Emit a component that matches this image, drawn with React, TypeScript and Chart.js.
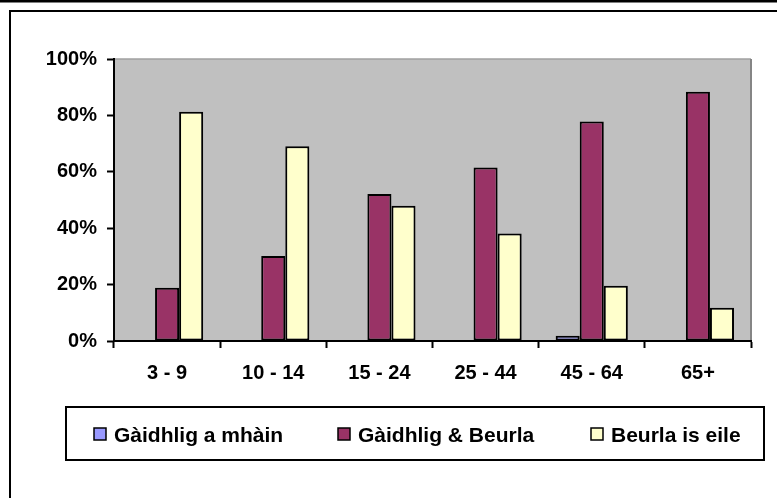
import React, { useEffect, useRef } from "react";
import { Chart, registerables } from "chart.js";

Chart.register(...registerables);

const categories = ["3 - 9", "10 - 14", "15 - 24", "25 - 44", "45 - 64", "65+"];
const seriesNames = ["Gàidhlig a mhàin", "Gàidhlig & Beurla", "Beurla is eile"];
const gaelicOnly = [0, 0, 0, 0, 1.9, 0];
const gaelicEnglish = [18.9, 30.1, 52.1, 61.5, 77.8, 88.4];
const englishOther = [81.3, 69.1, 48.0, 38.1, 19.6, 11.8];
const yTicks = [0, 20, 40, 60, 80, 100];
const colors = ["#9999FF", "#993366", "#FFFFCC"];

const FONT = "'Liberation Sans', Arial, sans-serif";

const framePlugin = {
  id: "frame",
  beforeDraw(chart: any) {
    const { ctx, width, height, chartArea } = chart;
    ctx.save();
    ctx.fillStyle = "#ffffff";
    ctx.fillRect(0, 0, width, height);
    ctx.fillStyle = "#000000";
    ctx.fillRect(0, 0, width, 2.5);
    ctx.strokeStyle = "#000000";
    ctx.lineWidth = 2;
    ctx.beginPath();
    ctx.moveTo(10, height);
    ctx.lineTo(10, 11);
    ctx.lineTo(width, 11);
    ctx.stroke();
    ctx.fillStyle = "#C0C0C0";
    ctx.fillRect(chartArea.left, chartArea.top, chartArea.right - chartArea.left, chartArea.bottom - chartArea.top);
    ctx.strokeStyle = "#a0a0a0";
    ctx.lineWidth = 1.5;
    ctx.beginPath();
    ctx.moveTo(chartArea.left, chartArea.top);
    ctx.lineTo(chartArea.right, chartArea.top);
    ctx.stroke();
    ctx.strokeStyle = "#858585";
    ctx.lineWidth = 2;
    ctx.beginPath();
    ctx.moveTo(chartArea.right, chartArea.top);
    ctx.lineTo(chartArea.right, chartArea.bottom);
    ctx.stroke();
    ctx.restore();
  },
  afterDraw(chart: any) {
    const { ctx } = chart;
    ctx.save();
    ctx.strokeStyle = "#000000";
    ctx.lineWidth = 2;
    ctx.strokeRect(66, 407, 698, 53);
    const itemX = [94, 338, 591];
    chart.data.datasets.forEach((ds: any, i: number) => {
      const x = itemX[i];
      ctx.fillStyle = ds.backgroundColor;
      ctx.fillRect(x, 428, 12, 12);
      ctx.strokeStyle = "#000000";
      ctx.lineWidth = 1.5;
      ctx.strokeRect(x, 428, 12, 12);
      ctx.fillStyle = "#000000";
      ctx.font = `bold 21px ${FONT}`;
      ctx.textBaseline = "middle";
      ctx.textAlign = "left";
      ctx.fillText(ds.label, x + 20, 436);
    });
    ctx.restore();
  },
};

export default function App() {
  const ref = useRef<HTMLCanvasElement>(null);
  useEffect(() => {
    document.body.style.margin = "0";
    const canvas = ref.current!;
    const series = [gaelicOnly, gaelicEnglish, englishOther];
    const chart = new Chart(canvas, {
      type: "bar",
      data: {
        labels: categories,
        datasets: series.map((d, i) => ({
          label: seriesNames[i],
          data: d,
          backgroundColor: colors[i],
          borderColor: "#000000",
          borderWidth: 2,
          borderSkipped: false,
          categoryPercentage: 0.68,
          barPercentage: 1,
        })),
      },
      options: {
        animation: false,
        responsive: false,
        devicePixelRatio: 1,
        layout: { padding: { left: 0, right: 26, top: 59, bottom: 0 } },
        plugins: { legend: { display: false }, tooltip: { enabled: false } },
        scales: {
          x: {
            grid: {
              drawOnChartArea: false,
              drawTicks: true,
              tickLength: 7,
              tickColor: "#000000",
              tickWidth: 2,
              offset: true,
            },
            border: { color: "#000000", width: 2 },
            ticks: {
              color: "#000000",
              font: { family: FONT, size: 20, weight: "bold" },
              padding: 13,
              maxRotation: 0,
            },
            afterFit(scale: any) {
              scale.height = 157;
            },
          },
          y: {
            min: 0,
            max: 100,
            afterBuildTicks(scale: any) {
              scale.ticks = yTicks.map((v) => ({ value: v }));
            },
            grid: {
              drawOnChartArea: false,
              drawTicks: true,
              tickLength: 7,
              tickColor: "#000000",
              tickWidth: 2,
            },
            border: { color: "#000000", width: 2 },
            ticks: {
              color: "#000000",
              font: { family: FONT, size: 20, weight: "bold" },
              padding: 10,
              callback: (v: any) => v + "%",
            },
            afterFit(scale: any) {
              scale.width = 114;
            },
          },
        },
      },
      plugins: [framePlugin],
    });
    return () => chart.destroy();
  }, []);
  return (
    <div style={{ position: "absolute", left: 0, top: 0, width: 777, height: 498 }}>
      <canvas ref={ref} width={777} height={498} />
    </div>
  );
}
